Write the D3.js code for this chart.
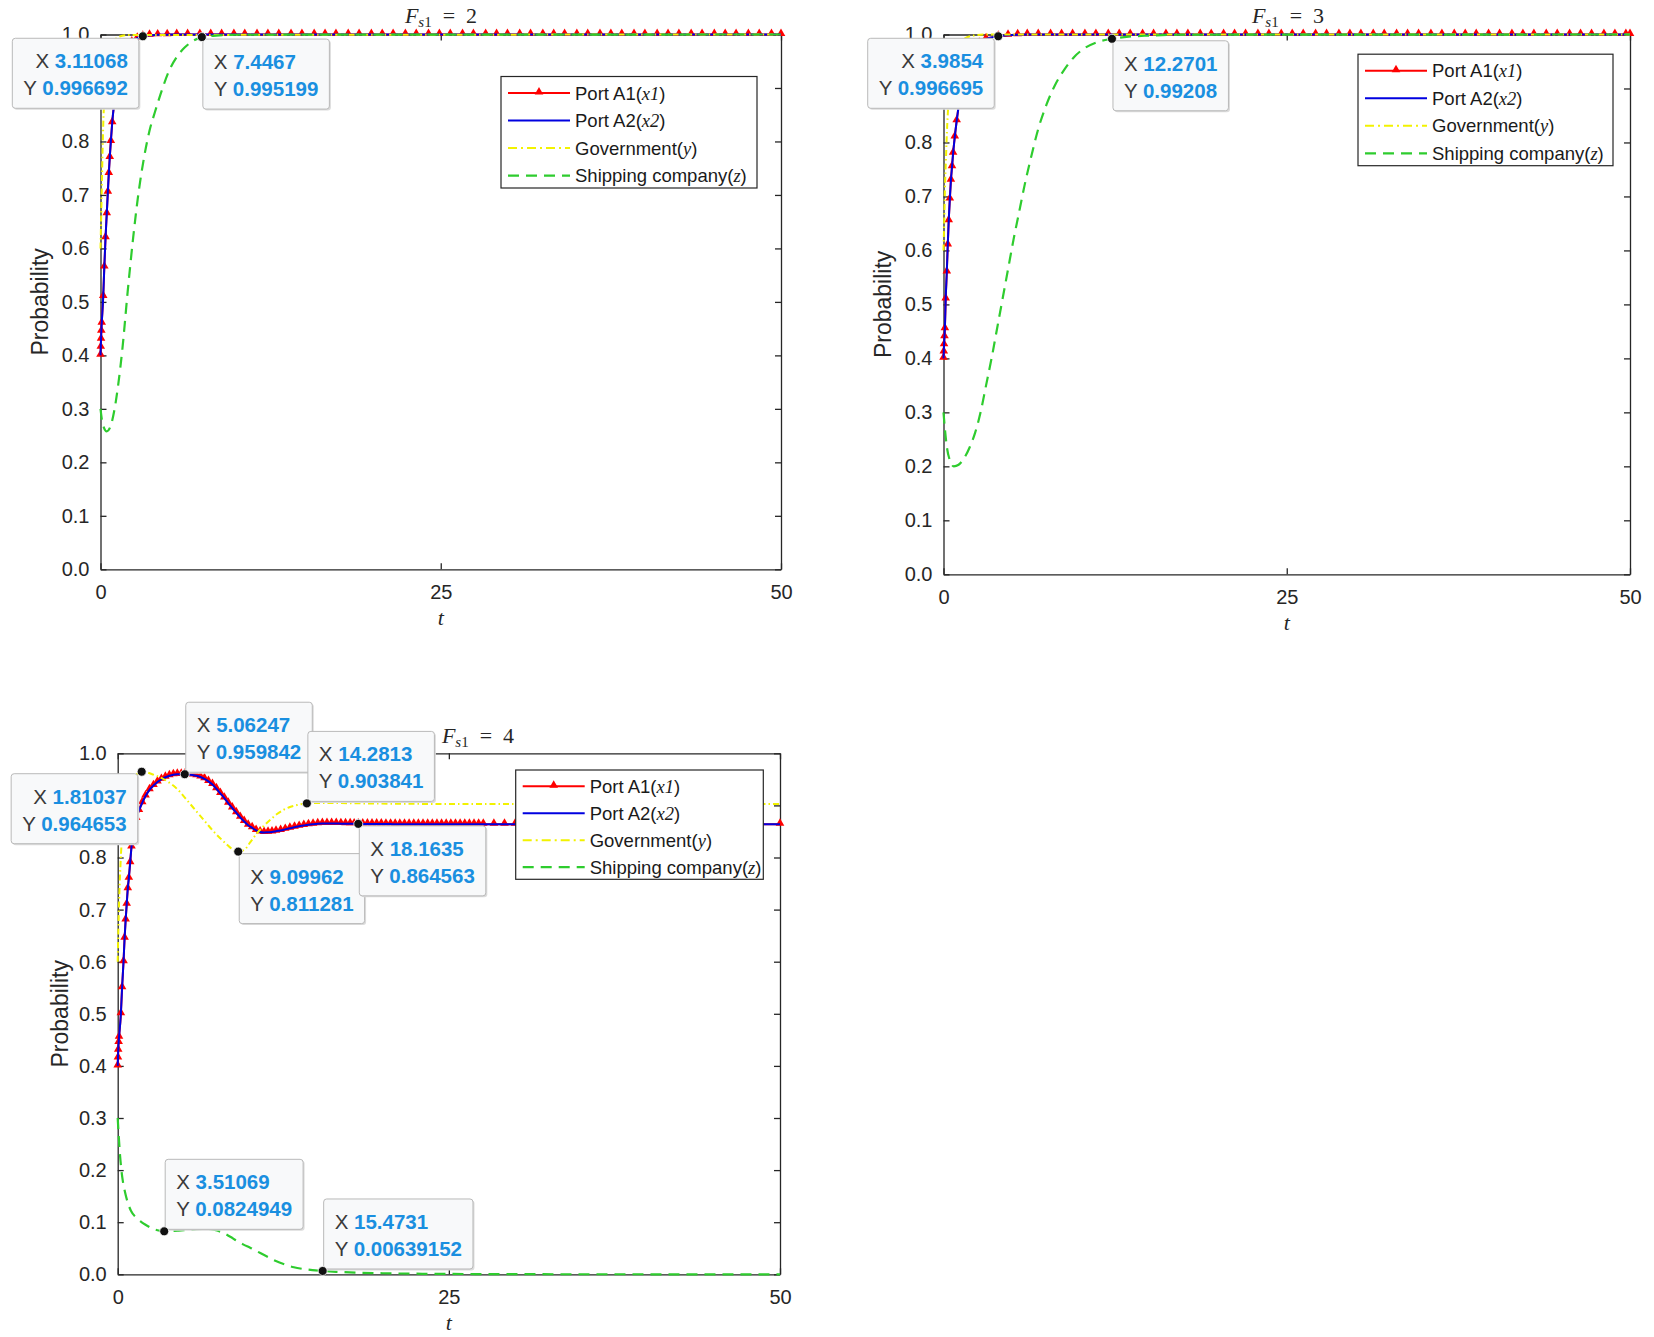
<!DOCTYPE html>
<html>
<head>
<meta charset="utf-8">
<script src="https://cdn.jsdelivr.net/npm/d3@7"></script>
<style>
  body { margin: 0; background: #fff; }
  svg { display: block; }
</style>
</head>
<body>
<script>
const width = 1654; // page size
const height = 1337;

// axis ticks
const tTicks = [0, 25, 50];
const pTicks = [0, 0.1, 0.2, 0.3, 0.4, 0.5, 0.6, 0.7, 0.8, 0.9, 1.0];

const seriesNames = ["Port A1", "Port A2", "Government", "Shipping company"];
const seriesVars = ["x1", "x2", "y", "z"];

// F_s1 = 2 : [t, probability]
const fs2PortA1 = [
  [0, 0.40], [0.02, 0.415], [0.04, 0.43], [0.06, 0.445], [0.09, 0.46], [0.2, 0.51], [0.28, 0.565],
  [0.37, 0.62], [0.46, 0.665], [0.54, 0.705], [0.61, 0.74], [0.68, 0.77], [0.76, 0.80], [0.86, 0.835],
  [1.0, 0.87], [1.15, 0.9], [1.35, 0.932], [1.6, 0.956], [1.9, 0.974], [2.3, 0.986], [2.7, 0.993],
  [3.11, 0.9967], [3.6, 0.9985], [4.2, 0.9993], [4.9, 0.9997],
  [5.6, 1], [6.4, 1], [7.3, 1], [8.1, 1], [8.9, 1], [9.8, 1], [10.6, 1], [11.5, 1], [12.3, 1], [13.1, 1],
  [14.0, 1], [14.8, 1], [15.7, 1], [16.5, 1], [17.3, 1], [18.2, 1], [19.0, 1], [19.9, 1], [20.7, 1],
  [21.5, 1], [22.4, 1], [23.2, 1], [24.1, 1], [24.9, 1], [25.7, 1], [26.6, 1], [27.4, 1], [28.3, 1],
  [29.1, 1], [29.9, 1], [30.8, 1], [31.6, 1], [32.5, 1], [33.3, 1], [34.1, 1], [35.0, 1], [35.8, 1],
  [36.7, 1], [37.5, 1], [38.3, 1], [39.2, 1], [40.0, 1], [40.9, 1], [41.7, 1], [42.5, 1], [43.4, 1],
  [44.2, 1], [45.1, 1], [45.9, 1], [46.7, 1], [47.6, 1], [48.4, 1], [49.3, 1], [50, 1]
];
const fs2Government = [
  [0, 0.6], [0.05, 0.66], [0.1, 0.72], [0.15, 0.78], [0.2, 0.83], [0.3, 0.89], [0.45, 0.94],
  [0.65, 0.97], [0.9, 0.985], [1.3, 0.995], [2, 0.999], [50, 1.0]
];
const fs2Shipping = [
  [0, 0.30], [0.1, 0.28], [0.25, 0.265], [0.45, 0.258], [0.7, 0.265], [1.0, 0.295], [1.3, 0.345],
  [1.6, 0.41], [2.0, 0.52], [2.4, 0.62], [2.8, 0.705], [3.2, 0.77], [3.6, 0.82], [4.0, 0.855],
  [4.5, 0.895], [5.0, 0.93], [5.6, 0.958], [6.2, 0.976], [6.8, 0.988], [7.45, 0.9952], [8.5, 0.998],
  [10, 0.9995], [50, 1.0]
];
const fs2Tips = [[3.11068, 0.996692], [7.4467, 0.995199]];

// F_s1 = 3
const fs3PortA1 = [
  [0, 0.40], [0.02, 0.412], [0.04, 0.425], [0.07, 0.44], [0.1, 0.455], [0.16, 0.51], [0.24, 0.56],
  [0.31, 0.61], [0.38, 0.655], [0.46, 0.695], [0.54, 0.73], [0.62, 0.755], [0.7, 0.78], [0.82, 0.81],
  [0.96, 0.84], [1.12, 0.87], [1.3, 0.9], [1.55, 0.93], [1.85, 0.955], [2.2, 0.972], [2.6, 0.984],
  [3.1, 0.992], [3.99, 0.9967], [4.7, 0.9986], [5.4, 0.9995],
  [6.1, 1], [6.9, 1], [7.8, 1], [8.6, 1], [9.4, 1], [10.3, 1], [11.1, 1], [12.0, 1], [12.8, 1], [13.6, 1],
  [14.5, 1], [15.3, 1], [16.2, 1], [17.0, 1], [17.8, 1], [18.7, 1], [19.5, 1], [20.4, 1], [21.2, 1],
  [22.0, 1], [22.9, 1], [23.7, 1], [24.6, 1], [25.4, 1], [26.2, 1], [27.1, 1], [27.9, 1], [28.8, 1],
  [29.6, 1], [30.4, 1], [31.3, 1], [32.1, 1], [33.0, 1], [33.8, 1], [34.6, 1], [35.5, 1], [36.3, 1],
  [37.2, 1], [38.0, 1], [38.8, 1], [39.7, 1], [40.5, 1], [41.4, 1], [42.2, 1], [43.0, 1], [43.9, 1],
  [44.7, 1], [45.6, 1], [46.4, 1], [47.2, 1], [48.1, 1], [48.9, 1], [49.7, 1], [50, 1]
];
const fs3Government = [
  [0, 0.6], [0.05, 0.65], [0.1, 0.71], [0.18, 0.77], [0.25, 0.82], [0.35, 0.87], [0.5, 0.92],
  [0.7, 0.955], [1.0, 0.978], [1.5, 0.992], [2.2, 0.998], [3, 1.0], [50, 1.0]
];
const fs3Shipping = [
  [0, 0.30], [0.1, 0.27], [0.25, 0.235], [0.45, 0.212], [0.75, 0.2], [1.1, 0.203], [1.5, 0.215],
  [1.9, 0.235], [2.3, 0.262], [2.7, 0.3], [3.1, 0.35], [3.5, 0.40], [3.9, 0.455], [4.3, 0.51],
  [4.7, 0.565], [5.1, 0.62], [5.5, 0.67], [5.9, 0.72], [6.4, 0.775], [6.9, 0.825], [7.5, 0.87],
  [8.1, 0.905], [8.8, 0.935], [9.5, 0.958], [10.3, 0.975], [11.2, 0.986], [12.27, 0.992],
  [13.5, 0.996], [15, 0.998], [17, 0.9995], [50, 1.0]
];
const fs3Tips = [[3.9854, 0.996695], [12.2701, 0.99208]];

// F_s1 = 4
const fs4PortA1 = [
  [0, 0.40], [0.02, 0.415], [0.04, 0.43], [0.07, 0.445], [0.1, 0.455], [0.24, 0.5], [0.33, 0.55],
  [0.44, 0.6], [0.52, 0.645], [0.6, 0.68], [0.68, 0.71], [0.76, 0.74], [0.84, 0.76], [0.94, 0.79],
  [1.04, 0.82], [1.2, 0.85], [1.4, 0.875], [1.6, 0.89], [1.85, 0.905], [2.1, 0.918], [2.4, 0.93],
  [2.7, 0.938], [3.0, 0.945], [3.3, 0.95], [3.6, 0.954], [3.9, 0.957], [4.2, 0.959], [4.5, 0.9597],
  [4.8, 0.9599], [5.06, 0.9598], [5.35, 0.9594], [5.65, 0.9585], [5.95, 0.957], [6.25, 0.9545],
  [6.55, 0.951], [6.85, 0.946], [7.15, 0.94], [7.45, 0.932], [7.75, 0.923], [8.05, 0.914],
  [8.35, 0.904], [8.65, 0.895], [8.95, 0.886], [9.25, 0.877], [9.55, 0.869], [9.85, 0.862],
  [10.15, 0.857], [10.45, 0.852], [10.75, 0.849], [11.05, 0.848], [11.35, 0.8485], [11.65, 0.849],
  [11.95, 0.8505], [12.3, 0.852], [12.65, 0.854], [13.0, 0.856], [13.35, 0.858], [13.7, 0.8598],
  [14.05, 0.8615], [14.4, 0.863], [14.75, 0.864], [15.1, 0.8648], [15.45, 0.8652], [15.8, 0.8654],
  [16.15, 0.8654], [16.5, 0.8652], [16.85, 0.865], [17.2, 0.8648], [17.55, 0.8647], [17.85, 0.8646],
  [18.16, 0.8646], [18.5, 0.8645], [18.85, 0.8644], [19.2, 0.8643], [19.55, 0.8642], [19.9, 0.8642],
  [20.25, 0.8641], [20.6, 0.8641], [20.95, 0.864], [21.3, 0.864], [21.65, 0.864], [22.0, 0.864],
  [22.35, 0.864], [22.7, 0.864], [23.05, 0.864], [23.4, 0.864], [23.75, 0.864], [24.1, 0.864],
  [24.45, 0.864], [24.8, 0.864], [25.15, 0.864], [25.5, 0.864], [25.85, 0.864], [26.2, 0.864],
  [26.55, 0.864], [26.9, 0.864], [27.25, 0.864], [27.6, 0.864], [28.4, 0.864], [29.2, 0.864],
  [30.0, 0.864], [30.9, 0.864], [31.8, 0.864], [32.8, 0.864], [33.8, 0.864], [34.9, 0.864],
  [36.0, 0.864], [37.2, 0.864], [38.4, 0.864], [39.7, 0.864], [41.0, 0.864], [42.4, 0.864],
  [43.8, 0.864], [45.3, 0.864], [46.8, 0.864], [48.4, 0.864], [50, 0.864]
];
const fs4Government = [
  [0, 0.6], [0.05, 0.66], [0.1, 0.71], [0.2, 0.78], [0.3, 0.83], [0.45, 0.875], [0.65, 0.91],
  [0.9, 0.935], [1.2, 0.952], [1.5, 0.961], [1.81, 0.9647], [2.2, 0.9635], [2.7, 0.959], [3.2, 0.954],
  [3.7, 0.947], [4.2, 0.938], [4.7, 0.926], [5.2, 0.911], [5.7, 0.896], [6.2, 0.881], [6.7, 0.866],
  [7.2, 0.851], [7.7, 0.838], [8.2, 0.826], [8.65, 0.816], [9.1, 0.8113], [9.55, 0.8145], [10.0, 0.829],
  [10.5, 0.846], [11.0, 0.86], [11.5, 0.872], [12.0, 0.883], [12.5, 0.891], [13.0, 0.897],
  [13.6, 0.901], [14.28, 0.9038], [15, 0.9045], [16.5, 0.9045], [18, 0.904], [21, 0.9032],
  [25, 0.9028], [30, 0.9027], [40, 0.9027], [50, 0.9027]
];
const fs4Shipping = [
  [0, 0.30], [0.08, 0.265], [0.16, 0.234], [0.28, 0.2], [0.4, 0.177], [0.55, 0.158], [0.72, 0.141],
  [1.0, 0.122], [1.31, 0.111], [1.7, 0.102], [2.1, 0.095], [2.6, 0.088], [3.0, 0.0845], [3.51, 0.0825],
  [4.0, 0.0828], [4.6, 0.0838], [5.2, 0.085], [5.8, 0.0862], [6.4, 0.087], [7.0, 0.0865], [7.5, 0.084],
  [8.0, 0.079], [8.5, 0.072], [9.0, 0.064], [9.5, 0.057], [10.0, 0.051], [10.6, 0.043], [11.2, 0.035],
  [11.9, 0.026], [12.6, 0.019], [13.3, 0.0135], [14.0, 0.0102], [14.7, 0.008], [15.47, 0.0064],
  [16.5, 0.0048], [18, 0.0032], [20, 0.002], [23, 0.001], [27, 0.0005], [35, 0.0001], [50, 0]
];
const fs4Tips = [
  [1.81037, 0.964653], [5.06247, 0.959842], [14.2813, 0.903841], [9.09962, 0.811281],
  [18.1635, 0.864563], [3.51069, 0.0824949], [15.4731, 0.00639152]
];

const colors = ["#ff0000", "#0000e0", "#f2f200", "#2ecc2e"];
const dashes = [null, null, "6,3,1.5,3", "11,7"];
const widths = [2, 2, 2, 2.2];
const axisColor = "#262626";
const sans = "Liberation Sans, Arial, sans-serif";
const serif = "Liberation Serif, Times New Roman, serif";

/**
 * Layout of the three panels (pixel boxes of the axes, legend and
 * the side on which every data tip box sits).
 */
const panels = [
  {
    fs: "2", series: [fs2PortA1, fs2PortA1, fs2Government, fs2Shipping], tips: fs2Tips,
    left: 100.5, right: 781, top: 34.5, bottom: 569.3,
    titleX: 441, titleY: 23, ylabX: 40,
    legend: { x: 501, y: 76.5, w: 256, h: 111.5 },
    tipPlace: ["bl", "br"]
  },
  {
    fs: "3", series: [fs3PortA1, fs3PortA1, fs3Government, fs3Shipping], tips: fs3Tips,
    left: 943.5, right: 1630, top: 34.5, bottom: 574.3,
    titleX: 1288, titleY: 23, ylabX: 883,
    legend: { x: 1358, y: 54.2, w: 255, h: 111.5 },
    tipPlace: ["bl", "br"]
  },
  {
    fs: "4", series: [fs4PortA1, fs4PortA1, fs4Government, fs4Shipping], tips: fs4Tips,
    left: 117.7, right: 780, top: 753.3, bottom: 1274.3,
    titleX: 478, titleY: 743, ylabX: 60,
    legend: { x: 515.7, y: 770, w: 247.6, h: 109.3 },
    tipPlace: ["bl", "tr", "tr", "br", "br", "tr", "tr"]
  }
];

const svg = d3.select("body").append("svg")
  .attr("width", width)
  .attr("height", height)
  .attr("viewBox", [0, 0, width, height]);

const triangle = d3.symbol().type(d3.symbolTriangle).size(32);

function drawPanel(p) {
  const g = svg.append("g");

  const x = d3.scaleLinear().domain([0, 50]).range([p.left, p.right]);
  const y = d3.scaleLinear().domain([0, 1]).range([p.bottom, p.top]);

  // axes, MATLAB style: box on, ticks pointing inside
  g.append("g")
    .attr("transform", `translate(0,${p.bottom})`)
    .call(d3.axisBottom(x).tickValues(tTicks).tickSize(-6).tickSizeOuter(0).tickPadding(16))
    .call(a => a.selectAll("text").attr("font-size", 20).attr("font-family", sans).attr("fill", axisColor));
  g.append("g")
    .attr("transform", `translate(0,${p.top})`)
    .call(d3.axisTop(x).tickValues(tTicks).tickSize(-6).tickSizeOuter(0).tickFormat(""));
  const yAxis = g.append("g")
    .attr("transform", `translate(${p.left},0)`)
    .call(d3.axisLeft(y).tickValues(pTicks).tickSize(-6).tickSizeOuter(0).tickPadding(11).tickFormat(d3.format(".1f")))
    .call(a => a.selectAll("text").attr("font-size", 20).attr("font-family", sans).attr("fill", axisColor));
  g.append("g")
    .attr("transform", `translate(${p.right},0)`)
    .call(d3.axisRight(y).tickValues(pTicks).tickSize(-6).tickSizeOuter(0).tickFormat(""));
  g.selectAll(".domain, .tick line").attr("stroke", axisColor).attr("stroke-width", 1.3);

  // labels
  g.append("text")
    .attr("transform", `translate(${p.ylabX},${(p.top + p.bottom) / 2}) rotate(-90)`)
    .attr("text-anchor", "middle")
    .attr("dy", "0.35em")
    .attr("font-family", sans)
    .attr("font-size", 23)
    .attr("fill", axisColor)
    .text("Probability");
  g.append("text")
    .attr("x", (p.left + p.right) / 2)
    .attr("y", p.bottom + 56)
    .attr("text-anchor", "middle")
    .attr("font-family", serif)
    .attr("font-style", "italic")
    .attr("font-size", 22)
    .attr("fill", axisColor)
    .text("t");

  const title = g.append("text")
    .attr("x", p.titleX)
    .attr("y", p.titleY)
    .attr("text-anchor", "middle")
    .attr("font-family", serif)
    .attr("font-size", 22)
    .attr("fill", axisColor);
  title.append("tspan").attr("font-style", "italic").text("F");
  title.append("tspan").attr("font-style", "italic").attr("font-size", 15).attr("dy", 4).text("s");
  title.append("tspan").attr("font-size", 15).text("1");
  title.append("tspan").attr("dy", -4).text("\u2002=\u2002" + p.fs);

  // curves
  const line = d3.line()
    .x(d => x(d[0]))
    .y(d => y(d[1]))
    .curve(d3.curveMonotoneX);

  p.series.forEach((data, i) => {
    g.append("path")
      .datum(data)
      .attr("fill", "none")
      .attr("stroke", colors[i])
      .attr("stroke-width", widths[i])
      .attr("stroke-dasharray", dashes[i])
      .attr("d", line);
    if (i === 0) {
      g.append("g")
        .selectAll("path")
        .data(data)
        .join("path")
        .attr("transform", d => `translate(${x(d[0])},${y(d[1]) - 1})`)
        .attr("fill", colors[0])
        .attr("d", triangle);
    }
  });

  // legend
  const L = p.legend;
  const lg = g.append("g");
  lg.append("rect")
    .attr("x", L.x).attr("y", L.y)
    .attr("width", L.w).attr("height", L.h)
    .attr("fill", "#fff")
    .attr("stroke", axisColor)
    .attr("stroke-width", 1.2);
  const step = L.h / 4.05;
  seriesNames.forEach((name, i) => {
    const cy = L.y + step * 0.6 + i * step;
    lg.append("line")
      .attr("x1", L.x + 7).attr("x2", L.x + 69)
      .attr("y1", cy).attr("y2", cy)
      .attr("stroke", colors[i])
      .attr("stroke-width", widths[i])
      .attr("stroke-dasharray", i === 2 ? "9,4,2,4" : dashes[i]);
    if (i === 0) {
      lg.append("path")
        .attr("transform", `translate(${L.x + 38},${cy - 1})`)
        .attr("fill", colors[0])
        .attr("d", triangle);
    }
    const t = lg.append("text")
      .attr("x", L.x + 74)
      .attr("y", cy)
      .attr("dy", "0.36em")
      .attr("font-family", sans)
      .attr("font-size", 18.5)
      .attr("fill", "#1a1a1a");
    t.append("tspan").text(name + "(");
    t.append("tspan").attr("font-family", serif).attr("font-style", "italic").text(seriesVars[i]);
    t.append("tspan").text(")");
  });

  // data tips
  const tg = g.append("g");
  const dots = [];
  const boxes = [];
  p.tips.forEach((d, i) => {
    const px = x(d[0]), py = y(d[1]);
    const place = p.tipPlace[i];
    const box = tg.append("g");
    const shadow = box.append("rect").attr("rx", 3).attr("fill", "#dcdcdc");
    const rect = box.append("rect")
      .attr("rx", 3)
      .attr("fill", "#f8f9fa")
      .attr("stroke", "#b9b9b9")
      .attr("stroke-width", 1);
    const lines = [["X", d[0]], ["Y", d[1]]].map(([k, v]) => {
      const t = box.append("text")
        .attr("font-family", sans)
        .attr("font-size", 20.5);
      t.append("tspan").attr("fill", "#3a3a3a").text(k + " ");
      t.append("tspan").attr("fill", "#1a8fe0").attr("font-weight", "bold").text(String(v));
      return t;
    });
    const w = d3.max(lines, t => t.node().getComputedTextLength()) + 22;
    const h = 70;
    let bx, by;
    if (place === "bl") { bx = px - 4 - w; by = py + 2; }
    else if (place === "br") { bx = px + 1; by = py + 2; }
    else { bx = px + 1; by = py - 2 - h; }
    shadow.attr("x", bx + 1.5).attr("y", by + 1.5).attr("width", w).attr("height", h);
    rect.attr("x", bx).attr("y", by).attr("width", w).attr("height", h);
    lines.forEach((t, j) => {
      t.attr("y", by + 30 + j * 27);
      if (place === "bl") t.attr("x", bx + w - 11).attr("text-anchor", "end");
      else t.attr("x", bx + 11);
    });
    boxes.push([bx, by, w, h]);
    dots.push([px, py]);
  });
  tg.selectAll("circle")
    .data(dots)
    .join("circle")
    .attr("cx", d => d[0])
    .attr("cy", d => d[1])
    .attr("r", 4.5)
    .attr("fill", "#111")
    .attr("stroke", "#fff")
    .attr("stroke-width", 0.8);

  // tick labels fully hidden behind a data tip are dropped
  yAxis.selectAll(".tick text").each(function() {
    const b = this.getBoundingClientRect();
    const hidden = boxes.some(([bx, by, w, h]) =>
      b.left >= bx && b.right <= bx + w && b.top >= by && b.bottom <= by + h);
    if (hidden) d3.select(this).remove();
  });
}

panels.forEach(drawPanel);
</script>
</body>
</html>
